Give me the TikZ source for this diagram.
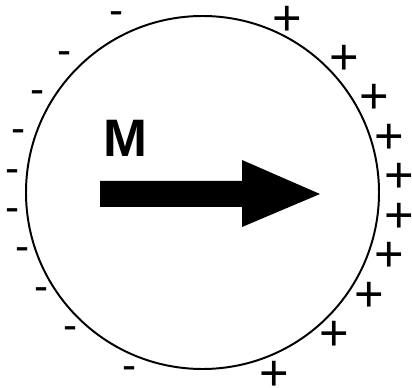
\documentclass[tikz,border=0pt]{standalone}
\usepackage{fontspec}
\setmainfont{Liberation Sans}
\usepackage{xcolor}
\usepackage{tikz}
\usetikzlibrary{positioning}

\tikzset{
  pluscharge/.style={font=\fontsize{36}{36}\selectfont, inner sep=0pt},
  minuscharge/.style={font=\fontsize{30}{30}\selectfont, inner sep=0pt},
  magnet/.style={fill=black, draw=none}
}

\begin{document}
\begin{tikzpicture}[x=0.025cm, y=0.025cm]
  \useasboundingbox (0,0) rectangle (412,387);
  \draw[line width=1.4pt] (202.5,194.5) circle (176.5);
  % magnetisation arrow
  \fill[magnet] (100,180) -- (242,180) -- (242,160) -- (320,193) -- (242,227) -- (242,206) -- (100,206) -- cycle;
  \node[font=\fontsize{37.5}{37.5}\selectfont\bfseries, inner sep=0pt] (mlabel) at (125,249) {M};
  % negative side
  \node[minuscharge] (m1) at (117,369) {-};
  \node[minuscharge] (m2) at (65,329) {-};
  \node[minuscharge] (m3) at (38,290) {-};
  \node[minuscharge] (m4) at (19,251) {-};
  \node[minuscharge] (m5) at (13,211) {-};
  \node[minuscharge] (m6) at (13,172) {-};
  \node[minuscharge] (m7) at (23,133) {-};
  \node[minuscharge] (m8) at (42,93) {-};
  \node[minuscharge] (m9) at (71,54) {-};
  \node[minuscharge] (m10) at (130,14) {-};
  % positive side
  \node[pluscharge] (p1) at (287,366) {+};
  \node[pluscharge] (p2) at (344,327) {+};
  \node[pluscharge] (p3) at (374,288) {+};
  \node[pluscharge] (p4) at (389,248) {+};
  \node[pluscharge] (p5) at (399,209) {+};
  \node[pluscharge] (p6) at (399,169) {+};
  \node[pluscharge] (p7) at (389,130) {+};
  \node[pluscharge] (p8) at (369,90) {+};
  \node[pluscharge] (p9) at (334,51) {+};
  \node[pluscharge] (p10) at (274,11) {+};
\end{tikzpicture}
\end{document}
